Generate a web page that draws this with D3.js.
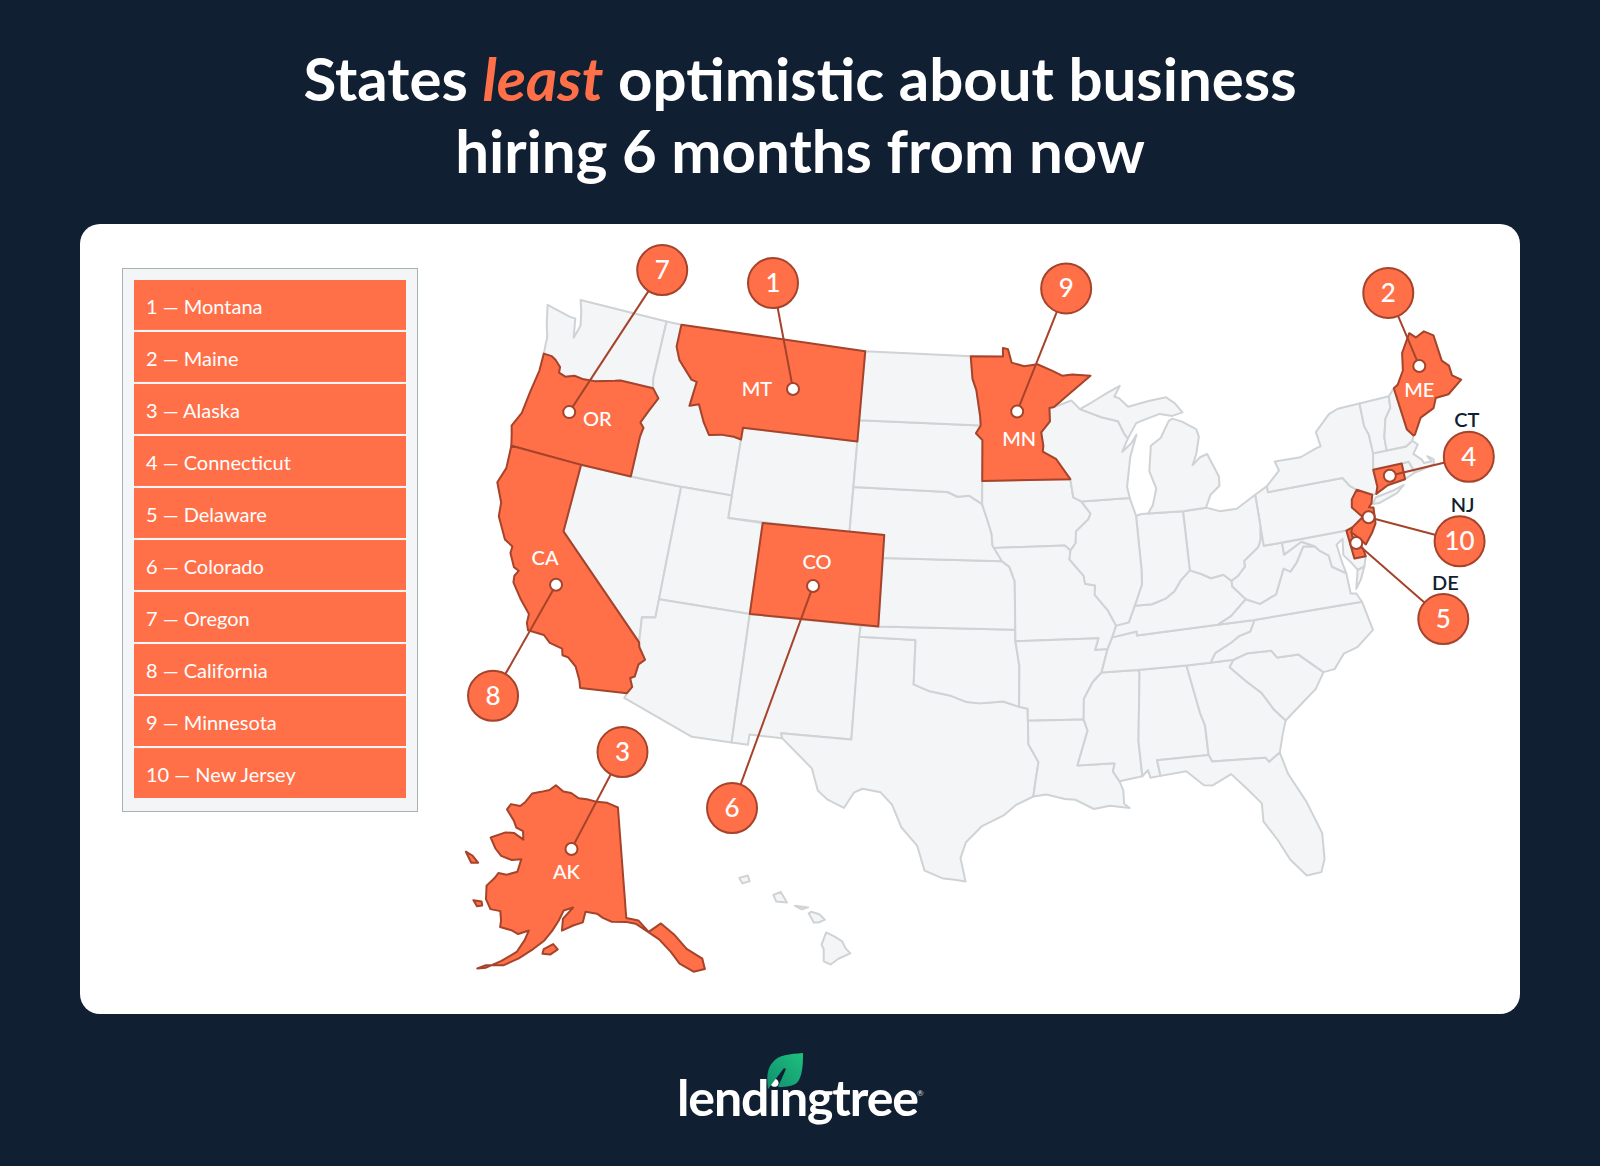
<!DOCTYPE html>
<html>
<head>
<meta charset="utf-8">
<title>States least optimistic about business hiring</title>
<script src="https://cdnjs.cloudflare.com/ajax/libs/d3/7.8.5/d3.min.js"></script>
<style>
  html, body { margin: 0; padding: 0; background: #111f32; }
  svg { display: block; }
  text { font-family: Lato, "Open Sans", sans-serif; }
</style>
</head>
<body>
<div id="chart"></div>
<script>
'use strict';

// ranking shown in the legend and on the callouts
const rankNames = ['Montana', 'Maine', 'Alaska', 'Connecticut', 'Delaware', 'Colorado', 'Oregon', 'California', 'Minnesota', 'New Jersey'];
const rankCodes = ['MT', 'ME', 'AK', 'CT', 'DE', 'CO', 'OR', 'CA', 'MN', 'NJ'];

// where each callout pin sits, lon / lat, same order as rankCodes
const pinLonLat = [[-108.35, 47.0], [-69.2, 45.95], [-151.3, 66.1], [-72.65, 41.63], [-75.4, 39.1], [-105.8, 38.53], [-121.5, 44.1], [-119.65, 36.67], [-94.3, 46.55], [-74.4, 40.08]];

// state outlines, lon / lat. A state may have several rings.
const WA = [[[-124.7, 48.38], [-123.1, 48.15], [-122.75, 48.15], [-122.5, 47.3], [-122.3, 47.9], [-122.5, 48.5], [-122.76, 49], [-117.03, 49], [-117.04, 46.42], [-116.92, 45.99], [-118.98, 46], [-119.3, 45.93], [-120.5, 45.7], [-121.2, 45.65], [-121.8, 45.7], [-122.3, 45.55], [-122.76, 45.65], [-122.8, 45.9], [-123.2, 46.15], [-123.5, 46.26], [-124, 46.27], [-124.07, 46.7], [-124.1, 47], [-124.4, 47.6]]];
const OR = [[[-124, 46.27], [-123.5, 46.26], [-123.2, 46.15], [-122.8, 45.9], [-122.76, 45.65], [-122.3, 45.55], [-121.8, 45.7], [-121.2, 45.65], [-120.5, 45.7], [-119.3, 45.93], [-118.98, 46], [-116.92, 45.99], [-116.46, 45.6], [-116.85, 45], [-117.2, 44.4], [-116.95, 44.2], [-117.03, 43.8], [-117.03, 42], [-120, 42], [-124.21, 42], [-124.4, 42.5], [-124.55, 42.84], [-124.2, 43.5], [-124.1, 44.5], [-123.95, 45.5]]];
const CA = [[[-124.21, 42], [-120, 42], [-120, 39], [-114.63, 35], [-114.57, 34.8], [-114.14, 34.3], [-114.43, 34.05], [-114.5, 33.5], [-114.72, 33.4], [-114.52, 33.03], [-114.72, 32.72], [-117.12, 32.53], [-117.25, 32.85], [-117.6, 33.4], [-118.1, 33.72], [-118.4, 33.75], [-118.5, 34.03], [-119.2, 34.15], [-119.6, 34.42], [-120.47, 34.45], [-120.63, 34.75], [-120.65, 35.15], [-121.3, 35.7], [-121.9, 36.3], [-121.95, 36.6], [-121.8, 36.85], [-122.1, 36.95], [-122.5, 37.5], [-122.5, 37.8], [-123, 38], [-123.7, 38.9], [-123.8, 39.5], [-124.35, 40.3], [-124.1, 41]]];
const NV = [[[-120, 42], [-117.03, 42], [-114.04, 42], [-114.04, 36.2], [-114.75, 36.1], [-114.63, 35], [-120, 39]]];
const ID = [[[-117.03, 49], [-116.05, 49], [-116.05, 48], [-115.7, 47.45], [-114.7, 46.7], [-114.35, 46.65], [-114.5, 45.55], [-113.95, 45.7], [-113.45, 44.95], [-113, 44.45], [-112.3, 44.55], [-111.5, 44.55], [-111.05, 44.48], [-111.05, 42], [-114.04, 42], [-117.03, 42], [-117.03, 43.8], [-116.95, 44.2], [-117.2, 44.4], [-116.85, 45], [-116.46, 45.6], [-116.92, 45.99], [-117.04, 46.42]]];
const MT = [[[-116.05, 49], [-104.05, 49], [-104.05, 45], [-111.05, 45], [-111.05, 44.48], [-111.5, 44.55], [-112.3, 44.55], [-113, 44.45], [-113.45, 44.95], [-113.95, 45.7], [-114.5, 45.55], [-114.35, 46.65], [-114.7, 46.7], [-115.7, 47.45], [-116.05, 48]]];
const WY = [[[-111.05, 45], [-104.05, 45], [-104.05, 41], [-111.05, 41]]];
const UT = [[[-114.04, 42], [-111.05, 42], [-111.05, 41], [-109.05, 41], [-109.05, 37], [-114.04, 37]]];
const CO = [[[-109.05, 41], [-102.05, 41], [-102.05, 37], [-109.05, 37]]];
const AZ = [[[-114.04, 37], [-109.05, 37], [-109.05, 31.33], [-111.07, 31.33], [-114.81, 32.5], [-114.72, 32.72], [-114.52, 33.03], [-114.72, 33.4], [-114.5, 33.5], [-114.43, 34.05], [-114.14, 34.3], [-114.57, 34.8], [-114.63, 35], [-114.75, 36.1], [-114.04, 36.2]]];
const NM = [[[-109.05, 37], [-103, 37], [-103.04, 32], [-106.62, 32], [-106.53, 31.78], [-108.21, 31.78], [-108.21, 31.33], [-109.05, 31.33]]];
const TX = [[[-106.62, 32], [-103.04, 32], [-103.04, 36.5], [-100, 36.5], [-100, 34.56], [-99.2, 34.3], [-98.1, 34.13], [-97.2, 33.85], [-96.5, 33.8], [-95.3, 33.88], [-94.48, 33.64], [-94.04, 33.55], [-94.04, 33.02], [-94.04, 32], [-93.55, 31.2], [-93.7, 30.5], [-93.85, 29.7], [-94.7, 29.35], [-95.3, 28.9], [-96.4, 28.4], [-97.15, 27.7], [-97.4, 27], [-97.15, 25.96], [-97.65, 26.03], [-98.2, 26.07], [-99.1, 26.4], [-99.5, 27.5], [-100.3, 28.28], [-100.8, 29.25], [-101.4, 29.77], [-102.3, 29.88], [-102.7, 29.7], [-103.15, 28.98], [-104, 29.3], [-104.5, 29.65], [-104.9, 30.6], [-106.53, 31.78]]];
const OK = [[[-103, 37], [-102.05, 37], [-94.62, 37], [-94.62, 36.5], [-94.43, 35.4], [-94.48, 33.64], [-95.3, 33.88], [-96.5, 33.8], [-97.2, 33.85], [-98.1, 34.13], [-99.2, 34.3], [-100, 34.56], [-100, 36.5], [-103.04, 36.5]]];
const KS = [[[-102.05, 40], [-95.31, 40], [-94.9, 39.75], [-94.61, 39.11], [-94.62, 37], [-102.05, 37]]];
const NE = [[[-104.05, 43], [-98.5, 43], [-97.9, 42.8], [-97.2, 42.85], [-96.45, 42.49], [-96.1, 41.7], [-95.9, 41.2], [-95.85, 40.7], [-95.31, 40], [-102.05, 40], [-102.05, 41], [-104.05, 41]]];
const SD = [[[-104.05, 45.94], [-96.56, 45.94], [-96.85, 45.6], [-96.45, 45.3], [-96.45, 43.5], [-96.45, 42.49], [-97.2, 42.85], [-97.9, 42.8], [-98.5, 43], [-104.05, 43]]];
const ND = [[[-104.05, 49], [-97.23, 49], [-97.1, 48], [-96.85, 47.5], [-96.6, 46.35], [-96.56, 45.94], [-104.05, 45.94]]];
const MN = [[[-97.23, 49], [-95.15, 49], [-95.15, 49.38], [-94.82, 49.32], [-94.6, 48.72], [-93.8, 48.55], [-92.95, 48.62], [-92, 48.3], [-91.4, 48.07], [-90.75, 48.1], [-89.6, 48], [-91, 47.25], [-92, 46.7], [-92.29, 46.66], [-92.29, 46.07], [-92.85, 45.6], [-92.75, 45], [-92.8, 44.75], [-92, 44.4], [-91.22, 43.5], [-96.45, 43.5], [-96.45, 45.3], [-96.85, 45.6], [-96.56, 45.94], [-96.6, 46.35], [-96.85, 47.5], [-97.1, 48]]];
const IA = [[[-96.45, 43.5], [-91.22, 43.5], [-91.1, 42.7], [-90.65, 42.5], [-90.15, 41.95], [-90.3, 41.7], [-91.05, 41.2], [-91.1, 40.7], [-91.42, 40.38], [-91.73, 40.61], [-95.77, 40.58], [-95.85, 40.7], [-95.9, 41.2], [-96.1, 41.7], [-96.45, 42.49]]];
const MO = [[[-95.77, 40.58], [-91.73, 40.61], [-91.42, 40.38], [-91.5, 40], [-90.75, 39.25], [-90.7, 38.9], [-90.15, 38.8], [-90.2, 38.4], [-89.55, 37.7], [-89.15, 37], [-89.4, 36.5], [-89.7, 36], [-90.37, 36], [-90.15, 36.5], [-94.62, 36.5], [-94.62, 37], [-94.61, 39.11], [-94.9, 39.75], [-95.31, 40]]];
const AR = [[[-94.62, 36.5], [-90.15, 36.5], [-90.37, 36], [-89.7, 36], [-90.1, 35], [-90.6, 34.6], [-91.1, 33.9], [-91.17, 33], [-94.04, 33.02], [-94.04, 33.55], [-94.48, 33.64], [-94.43, 35.4]]];
const LA = [[[-94.04, 33.02], [-91.17, 33], [-91, 32.5], [-91.6, 31], [-89.73, 31], [-89.85, 30.65], [-89.55, 30.2], [-89.4, 29.8], [-89.4, 29.2], [-89.15, 29], [-90.1, 29.15], [-90.9, 29.05], [-91.8, 29.5], [-92.3, 29.55], [-93.2, 29.77], [-93.85, 29.7], [-93.7, 30.5], [-93.55, 31.2], [-94.04, 32]]];
const MS = [[[-91.17, 33], [-91.1, 33.9], [-90.6, 34.6], [-90.1, 35], [-88.2, 35], [-88.1, 34.9], [-88.45, 31.9], [-88.4, 30.35], [-89.55, 30.2], [-89.85, 30.65], [-89.73, 31], [-91.6, 31], [-91, 32.5]]];
const AL = [[[-88.2, 35], [-85.6, 35], [-85.18, 32.87], [-85, 32.3], [-85, 31], [-87.6, 31], [-87.5, 30.3], [-88, 30.25], [-88.1, 30.6], [-88.4, 30.35], [-88.45, 31.9], [-88.1, 34.9]]];
const GA = [[[-85.6, 35], [-83.1, 35], [-83.35, 34.7], [-82.6, 34], [-81.9, 33.4], [-81.4, 32.6], [-80.9, 32.05], [-81.15, 31.5], [-81.45, 30.7], [-82.05, 30.36], [-82.2, 30.57], [-84.86, 30.7], [-85, 31], [-85, 32.3], [-85.18, 32.87]]];
const FL = [[[-87.6, 31], [-85, 31], [-84.86, 30.7], [-82.2, 30.57], [-82.05, 30.36], [-81.45, 30.7], [-81.2, 29.7], [-80.55, 28.4], [-80.05, 26.9], [-80.15, 25.75], [-80.4, 25.2], [-81.1, 25.15], [-81.75, 25.95], [-82.2, 26.9], [-82.75, 27.8], [-82.7, 28.6], [-83.3, 29.3], [-84, 30.05], [-85, 29.65], [-85.4, 29.7], [-86.2, 30.4], [-87.5, 30.3]]];
const SC = [[[-83.35, 34.7], [-83.1, 35], [-82.3, 35.2], [-81.05, 35.15], [-80.8, 34.82], [-79.67, 34.8], [-78.55, 33.86], [-79.1, 33.2], [-79.9, 32.7], [-80.9, 32.05], [-81.4, 32.6], [-81.9, 33.4], [-82.6, 34]]];
const NC = [[[-84.32, 35], [-83.1, 35], [-82.3, 35.2], [-81.05, 35.15], [-80.8, 34.82], [-79.67, 34.8], [-78.55, 33.86], [-77.95, 33.9], [-77.3, 34.5], [-76.55, 34.65], [-75.55, 35.25], [-75.8, 36.55], [-81.68, 36.59], [-82, 36.12], [-82.6, 36], [-83.1, 35.75], [-84, 35.4]]];
const TN = [[[-90.1, 35], [-88.2, 35], [-85.6, 35], [-84.32, 35], [-84, 35.4], [-83.1, 35.75], [-82.6, 36], [-82, 36.12], [-81.68, 36.59], [-83.68, 36.6], [-88.07, 36.5], [-88.07, 36.68], [-89.4, 36.5], [-89.7, 36]]];
const KY = [[[-89.4, 36.5], [-88.07, 36.68], [-88.07, 36.5], [-83.68, 36.6], [-82.9, 36.9], [-81.97, 37.54], [-82.6, 38.17], [-82.6, 38.42], [-83, 38.73], [-83.7, 38.65], [-84.25, 38.9], [-84.82, 39.1], [-85.4, 38.7], [-85.8, 38.27], [-86.3, 38], [-87.1, 37.8], [-88.05, 37.8], [-88.45, 37.1], [-89.15, 37]]];
const VA = [[[-83.68, 36.6], [-81.68, 36.59], [-75.8, 36.55], [-76, 36.95], [-76.3, 37], [-76.3, 37.9], [-77, 38.3], [-77.05, 38.8], [-77.5, 39.1], [-77.72, 39.32], [-78.35, 39.4], [-78.87, 38.77], [-79.3, 38.42], [-79.65, 38.6], [-80.3, 37.55], [-81.25, 37.25], [-81.97, 37.54], [-82.9, 36.9]], [[-75.95, 37.15], [-75.65, 37.95], [-75.25, 38.03], [-75.6, 37.5]]];
const WV = [[[-82.6, 38.42], [-82.6, 38.17], [-81.97, 37.54], [-81.25, 37.25], [-80.3, 37.55], [-79.65, 38.6], [-79.3, 38.42], [-78.87, 38.77], [-78.35, 39.4], [-77.72, 39.32], [-78.4, 39.62], [-79.48, 39.2], [-79.48, 39.72], [-80.52, 39.72], [-80.52, 40.64], [-80.65, 40], [-80.85, 39.7], [-81.75, 39.2], [-81.75, 38.95], [-82.2, 38.6]]];
const MD = [[[-79.48, 39.72], [-75.79, 39.72], [-75.69, 38.46], [-75.05, 38.45], [-75.25, 38.03], [-75.65, 37.95], [-75.9, 38.3], [-76.25, 38.7], [-76.1, 39.4], [-76.5, 39.2], [-76.4, 38.4], [-76.3, 37.9], [-77, 38.3], [-77.05, 38.8], [-77.5, 39.1], [-77.72, 39.32], [-78.4, 39.62], [-79.48, 39.2]]];
const DE = [[[-75.79, 39.72], [-75.42, 39.8], [-75.55, 39.45], [-75.1, 38.8], [-75.05, 38.45], [-75.69, 38.46]]];
const PA = [[[-80.52, 41.98], [-79.76, 42.27], [-79.76, 42], [-75.35, 42], [-75.05, 41.6], [-74.7, 41.36], [-75.1, 41], [-75.2, 40.65], [-74.72, 40.15], [-75.42, 39.8], [-75.79, 39.72], [-80.52, 39.72]]];
const NJ = [[[-74.7, 41.36], [-73.9, 41], [-74.05, 40.65], [-74.25, 40.5], [-74, 40.45], [-74.1, 39.75], [-74.4, 39.4], [-74.9, 38.95], [-75.1, 39.2], [-75.55, 39.6], [-75.42, 39.8], [-74.72, 40.15], [-75.2, 40.65], [-75.1, 41]]];
const NY = [[[-79.76, 42], [-79.76, 42.27], [-78.9, 42.85], [-79.05, 43.27], [-77.5, 43.25], [-76.5, 43.5], [-76.2, 43.55], [-76.3, 44.2], [-75.3, 44.85], [-74.7, 45], [-73.34, 45.01], [-73.4, 44], [-73.25, 43.6], [-73.27, 42.75], [-73.5, 42.05], [-73.5, 41.3], [-73.66, 41], [-73.9, 41], [-74.7, 41.36], [-75.05, 41.6], [-75.35, 42]], [[-74, 40.6], [-73.75, 40.85], [-72.6, 40.98], [-72, 41.1], [-72.5, 40.82], [-73.6, 40.58]]];
const CT = [[[-73.5, 42.05], [-71.8, 42.02], [-71.85, 41.32], [-72.9, 41.25], [-73.66, 41], [-73.5, 41.3]]];
const RI = [[[-71.8, 42.02], [-71.38, 42.02], [-71.2, 41.5], [-71.85, 41.32]]];
const MA = [[[-73.27, 42.75], [-71.3, 42.7], [-70.85, 42.87], [-70.6, 42.65], [-71, 42.3], [-70.6, 41.95], [-70.55, 41.8], [-70.1, 41.78], [-70.25, 42.05], [-69.95, 41.85], [-70, 41.65], [-70.65, 41.55], [-71.2, 41.5], [-71.38, 42.02], [-71.8, 42.02], [-73.5, 42.05]]];
const VT = [[[-73.34, 45.01], [-71.5, 45.01], [-71.6, 44.5], [-72.05, 44.1], [-72.4, 43.3], [-72.46, 42.73], [-73.27, 42.75], [-73.25, 43.6], [-73.4, 44]]];
const NH = [[[-71.5, 45.01], [-71.08, 45.3], [-70.98, 43.4], [-70.7, 43.08], [-70.85, 42.87], [-71.3, 42.7], [-72.46, 42.73], [-72.4, 43.3], [-72.05, 44.1], [-71.6, 44.5]]];
const ME = [[[-71.08, 45.3], [-70.8, 45.4], [-70.25, 45.95], [-70, 46.7], [-69.22, 47.46], [-68.9, 47.2], [-68.3, 47.36], [-67.8, 47.07], [-67.78, 45.9], [-67.45, 45.6], [-67.45, 45.15], [-67, 44.85], [-68, 44.4], [-68.8, 44.4], [-69.1, 44], [-70, 43.75], [-70.6, 43.1], [-70.7, 43.08], [-70.98, 43.4]]];
const OH = [[[-84.8, 41.7], [-83.45, 41.73], [-82.7, 41.5], [-81.7, 41.5], [-80.52, 41.98], [-80.52, 40.64], [-80.65, 40], [-80.85, 39.7], [-81.75, 39.2], [-81.75, 38.95], [-82.2, 38.6], [-82.6, 38.42], [-83, 38.73], [-83.7, 38.65], [-84.25, 38.9], [-84.82, 39.1]]];
const IN = [[[-87.53, 41.71], [-87.2, 41.76], [-86.82, 41.76], [-84.8, 41.7], [-84.82, 39.1], [-85.4, 38.7], [-85.8, 38.27], [-86.3, 38], [-87.1, 37.8], [-88.05, 37.8], [-87.55, 38.7], [-87.5, 39.35]]];
const IL = [[[-90.65, 42.5], [-87.8, 42.5], [-87.53, 41.71], [-87.5, 39.35], [-87.55, 38.7], [-88.05, 37.8], [-88.45, 37.1], [-89.15, 37], [-89.55, 37.7], [-90.2, 38.4], [-90.15, 38.8], [-90.7, 38.9], [-90.75, 39.25], [-91.5, 40], [-91.42, 40.38], [-91.1, 40.7], [-91.05, 41.2], [-90.3, 41.7], [-90.15, 41.95]]];
const WI = [[[-92.29, 46.66], [-92, 46.7], [-90.9, 46.95], [-90.4, 46.55], [-89.1, 46.13], [-88.1, 45.9], [-87.8, 45.35], [-87.6, 45.1], [-88, 44.55], [-87.4, 44.9], [-87.05, 45.25], [-87.55, 44.3], [-87.9, 43], [-87.8, 42.5], [-90.65, 42.5], [-91.1, 42.7], [-91.22, 43.5], [-92, 44.4], [-92.8, 44.75], [-92.75, 45], [-92.85, 45.6], [-92.29, 46.07]]];
const MI = [[[-86.82, 41.76], [-86.5, 42.1], [-86.2, 42.8], [-86.5, 43.6], [-86.25, 44.7], [-85.6, 45], [-85, 45.7], [-84.75, 45.78], [-84.2, 45.6], [-83.4, 45.2], [-83.3, 44.85], [-83.6, 44.1], [-83.9, 43.65], [-83.4, 43.95], [-82.95, 44.05], [-82.45, 43], [-82.5, 42.6], [-83.1, 42.25], [-83.45, 41.73], [-84.8, 41.7]], [[-90.4, 46.55], [-89.1, 46.13], [-88.1, 45.9], [-87.8, 45.35], [-87.6, 45.1], [-87, 45.75], [-86.3, 45.9], [-85.5, 46.05], [-84.75, 45.9], [-84.1, 46], [-84.5, 46.45], [-85, 46.75], [-86.1, 46.67], [-87.4, 46.5], [-87.9, 46.9], [-88.2, 47], [-87.8, 47.45], [-88.6, 47.2], [-89.6, 46.83]]];
const AK = [[[-141, 69.65], [-143.5, 70.1], [-146, 70.2], [-148.5, 70.4], [-150.5, 70.45], [-152.5, 70.85], [-154.5, 70.9], [-156.6, 71.35], [-158, 70.85], [-160, 70.55], [-162, 70.25], [-163.1, 69.4], [-164, 68.95], [-166.2, 68.88], [-166.7, 68.35], [-164.5, 67.6], [-163.6, 67.1], [-162, 66.95], [-161.5, 66.25], [-163.7, 66.6], [-165.5, 66.45], [-168.1, 65.65], [-166.5, 64.9], [-165, 64.45], [-162.8, 64.35], [-161, 64.6], [-161.2, 63.5], [-163, 63.05], [-164.6, 63], [-165, 62.5], [-166, 61.7], [-165.4, 60.6], [-164.2, 59.9], [-162.5, 59.95], [-162, 59.2], [-161.9, 58.65], [-160, 58.6], [-158.8, 58.4], [-157.2, 58.85], [-157.6, 58], [-158.5, 56.9], [-160.5, 55.9], [-162.5, 55.05], [-163.7, 54.8], [-162.6, 55.25], [-160, 55.6], [-158, 56.4], [-156, 57.4], [-154.5, 58.2], [-153.4, 59.1], [-152.5, 60], [-151.8, 60.9], [-150.2, 61.2], [-151.8, 60.2], [-151.8, 59.2], [-150, 59.7], [-148.4, 60], [-148, 60.9], [-146, 60.75], [-145, 60.4], [-143.5, 60.05], [-141, 59.95], [-139.5, 59.75], [-137.5, 58.9], [-136, 58.2], [-134.5, 57], [-133.5, 55.9], [-131.7, 55], [-130, 55], [-130, 55.9], [-132, 57], [-133.5, 58.4], [-135.3, 59.5], [-137.5, 58.95], [-139, 60], [-141, 60.3]], [[-154.5, 57.1], [-153.3, 57.1], [-152.2, 57.6], [-153, 58], [-154.4, 57.5]], [[-171.7, 63.8], [-170.3, 63.7], [-168.8, 63.3], [-170, 63.1]], [[-167.4, 60.2], [-166, 60.3], [-165.7, 60], [-166.5, 59.8]]];
const HI = [[[-155.9, 20.25], [-155.55, 20.12], [-155.2, 19.95], [-155.05, 19.7], [-154.82, 19.5], [-155.3, 19.25], [-155.6, 19], [-155.9, 19.1], [-155.95, 19.6], [-156.05, 19.75]], [[-156.7, 20.95], [-156.6, 21.02], [-156.25, 20.95], [-156, 20.75], [-156.25, 20.62], [-156.45, 20.6]], [[-157.3, 21.2], [-156.75, 21.18], [-157, 21.08]], [[-158.25, 21.55], [-157.95, 21.7], [-157.65, 21.3], [-158.1, 21.3]], [[-159.75, 22.1], [-159.4, 22.23], [-159.3, 22], [-159.6, 21.9]]];

const outlines = { WA, OR, CA, NV, ID, MT, WY, UT, CO, AZ, NM, TX, OK, KS, NE, SD, ND, MN, IA, MO, AR, LA, MS, AL, GA, FL, SC, NC, TN, KY, VA, WV, MD, DE, PA, NJ, NY, CT, RI, MA, VT, NH, ME, OH, IN, IL, WI, MI, AK, HI };

const WIDTH = 1600;
const HEIGHT = 1166;
const ORANGE = '#ff7049';
const RUST = '#a5432b';
const NAVY = '#111f32';

// pixel offsets from each pin: bubble centre, then state label (rankCodes order)
const bubbleOffset = [[-20, -106], [-31, -73], [51, -97], [79, -19], [87, 76], [-81, 222], [93, -142], [-63, 111], [49, -123], [91, 24]];
const labelOffset = [[-36, 0], [0, 24], [-5, 23], [77, -56], [89, 40], [4, -24], [28, 7], [-11, -27], [2, 28], [94, -12]];

const svg = d3.select('#chart').append('svg')
  .attr('width', WIDTH)
  .attr('height', HEIGHT)
  .attr('viewBox', `0 0 ${WIDTH} ${HEIGHT}`);

svg.append('rect').attr('width', WIDTH).attr('height', HEIGHT).attr('fill', NAVY);

// title
const title = svg.append('text')
  .attr('text-anchor', 'middle')
  .attr('fill', '#fff')
  .attr('font-size', 60)
  .attr('font-weight', 700);
const line1 = title.append('tspan').attr('x', 800).attr('y', 100.5);
line1.append('tspan').text('States ');
line1.append('tspan').attr('fill', ORANGE).attr('font-style', 'italic').text('least');
line1.append('tspan').text(' optimistic about business');
title.append('tspan').attr('x', 800).attr('y', 172.5).text('hiring 6 months from now');

// white card
svg.append('rect')
  .attr('x', 80).attr('y', 224)
  .attr('width', 1440).attr('height', 790)
  .attr('rx', 20)
  .attr('fill', '#fff');

// legend
svg.append('rect')
  .attr('x', 122.5).attr('y', 268.5)
  .attr('width', 295).attr('height', 543)
  .attr('fill', '#f3f5f6')
  .attr('stroke', '#aab1b3');

const rowScale = d3.scaleBand().domain(rankNames).range([280, 798]).paddingInner(0.04).paddingOuter(0);

const rows = svg.append('g').selectAll('g').data(rankNames).join('g')
  .attr('transform', d => `translate(134,${rowScale(d)})`);
rows.append('rect')
  .attr('width', 272)
  .attr('height', rowScale.bandwidth())
  .attr('fill', ORANGE);
rows.append('text')
  .attr('x', 12)
  .attr('y', rowScale.bandwidth() / 2 + 9)
  .attr('fill', '#fff')
  .attr('font-size', 20)
  .text((d, i) => `${i + 1} \u2014 ${d}`);

// map projections, Alaska and Hawaii get their own like on most US maps
const MAP_X = 979;
const MAP_STRETCH = 1.0265; // the reference map is a little wider than a true albers
const albers = d3.geoAlbers().scale(1302).translate([MAP_X, 591]);
const stretchX = d3.geoTransform({
  point (x, y) { this.stream.point(MAP_X + (x - MAP_X) * MAP_STRETCH, y); }
});
const lower48 = { stream: s => albers.stream(stretchX.stream(s)) };
const alaska = d3.geoConicEqualArea().rotate([146, 0]).center([0, 64]).parallels([55, 65]).scale(680).translate([597, 875]);
const hawaii = d3.geoConicEqualArea().rotate([157, 0]).center([0, 20.9]).parallels([8, 18]).scale(1450).translate([801.5, 913]);

/** picks the projection a state is drawn with */
function projectionFor (code) {
  if (code === 'AK') return alaska;
  if (code === 'HI') return hawaii;
  return lower48;
}

/** lon / lat to pixels for a pin on the given state */
function projectPin (code, lonLat) {
  if (code === 'AK') return alaska(lonLat);
  const p = albers(lonLat);
  return [MAP_X + (p[0] - MAP_X) * MAP_STRETCH, p[1]];
}

/** turns a list of rings into a geojson shape, d3 wants them wound clockwise */
function toShape (rings) {
  const coordinates = rings.map(r => {
    const ring = r.concat([r[0]]);
    const area = d3.geoArea({ type: 'Polygon', coordinates: [ring] });
    return [area > 2 * Math.PI ? ring.slice().reverse() : ring];
  });
  return { type: 'MultiPolygon', coordinates };
}

const codes = Object.keys(outlines);
const plain = codes.filter(c => !rankCodes.includes(c));

const drawStates = (list, fill, stroke) => svg.append('g').selectAll('path').data(list).join('path')
  .attr('d', c => d3.geoPath(projectionFor(c))(toShape(outlines[c])))
  .attr('transform', c => c === 'HI' ? 'rotate(5 791 913)' : null) // island chain sits a bit steeper here
  .attr('fill', fill)
  .attr('stroke', stroke)
  .attr('stroke-width', 2)
  .attr('stroke-linejoin', 'round');

drawStates(plain, '#f3f5f6', '#cfd3d5');
drawStates(rankCodes, ORANGE, RUST);

// callouts
const callouts = rankCodes.map((code, i) => {
  const pin = projectPin(code, pinLonLat[i]);
  return {
    code,
    rank: i + 1,
    pin,
    bubble: [pin[0] + bubbleOffset[i][0], pin[1] + bubbleOffset[i][1]],
    label: [pin[0] + labelOffset[i][0], pin[1] + labelOffset[i][1]],
    outside: ['CT', 'DE', 'NJ'].includes(code)
  };
});

const calloutG = svg.append('g');
calloutG.selectAll('line').data(callouts).join('line')
  .attr('x1', d => d.pin[0]).attr('y1', d => d.pin[1])
  .attr('x2', d => d.bubble[0]).attr('y2', d => d.bubble[1])
  .attr('stroke', RUST)
  .attr('stroke-width', 2);
calloutG.selectAll('circle.bubble').data(callouts).join('circle')
  .attr('class', 'bubble')
  .attr('cx', d => d.bubble[0]).attr('cy', d => d.bubble[1])
  .attr('r', 25)
  .attr('fill', ORANGE)
  .attr('stroke', RUST)
  .attr('stroke-width', 2);
calloutG.selectAll('circle.pin').data(callouts).join('circle')
  .attr('class', 'pin')
  .attr('cx', d => d.pin[0]).attr('cy', d => d.pin[1])
  .attr('r', 6)
  .attr('fill', '#fff')
  .attr('stroke', RUST)
  .attr('stroke-width', 2);
calloutG.selectAll('text.rank').data(callouts).join('text')
  .attr('class', 'rank')
  .attr('x', d => d.bubble[0]).attr('y', d => d.bubble[1] + 9)
  .attr('text-anchor', 'middle')
  .attr('fill', '#fff')
  .attr('font-size', 26)
  .attr('font-weight', 500)
  .text(d => d.rank);
calloutG.selectAll('text.code').data(callouts).join('text')
  .attr('class', 'code')
  .attr('x', d => d.label[0]).attr('y', d => d.label[1] + 7)
  .attr('text-anchor', 'middle')
  .attr('fill', d => d.outside ? NAVY : '#fff')
  .attr('font-size', 20)
  .attr('font-weight', d => d.outside ? 600 : 500)
  .text(d => d.code);

// logo, the leaf goes over the text so it takes the place of the dot on the i
const defs = svg.append('defs');
const leafGrad = defs.append('linearGradient').attr('id', 'leaf').attr('x1', 0).attr('y1', 1).attr('x2', 1).attr('y2', 0);
leafGrad.append('stop').attr('offset', 0).attr('stop-color', '#0f8f6d');
leafGrad.append('stop').attr('offset', 1).attr('stop-color', '#1fbf7f');

svg.append('text')
  .attr('x', 677).attr('y', 1116)
  .attr('fill', '#fff')
  .attr('font-size', 50)
  .attr('font-weight', 700)
  .attr('letter-spacing', -1.1)
  .text('lendingtree');
svg.append('text')
  .attr('x', 917).attr('y', 1096)
  .attr('fill', '#dfe3e6')
  .attr('font-size', 8)
  .text('\u00ae');
svg.append('path')
  .attr('d', 'M803 1053 C790 1054 778 1055 773 1062 C766 1069 767 1080 768 1089 L784 1068 L786 1069 L778 1087 C788 1087 796 1086 799 1080 C803 1072 803 1062 803 1053 Z')
  .attr('fill', 'url(#leaf)');
</script>
</body>
</html>
